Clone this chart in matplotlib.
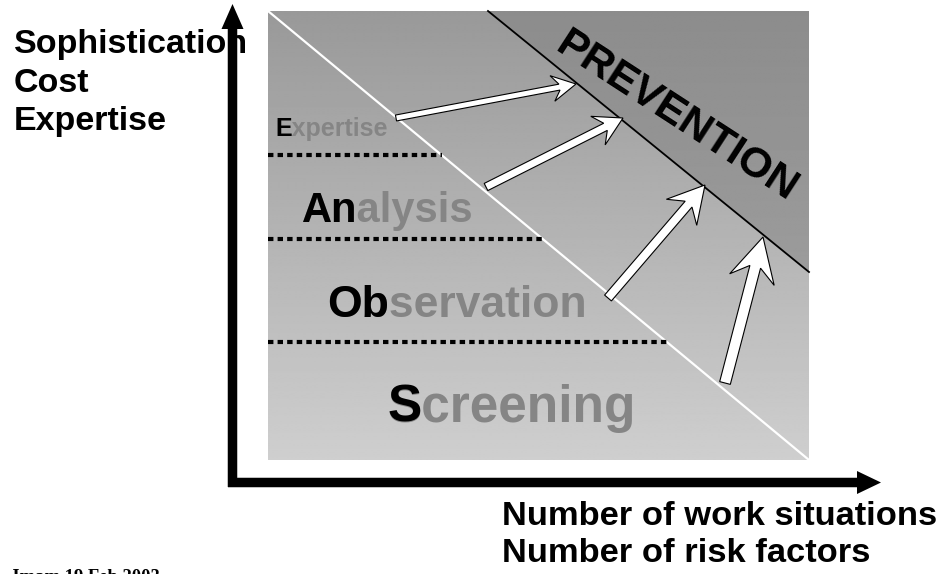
import numpy as np
import matplotlib.pyplot as plt
from matplotlib.patches import Polygon, FancyArrow

plt.rcParams['font.family'] = ['Liberation Sans', 'DejaVu Sans']

# texts of the diagram
y_label = ["Sophistication", "Cost", "Expertise"]
x_label = ["Number of work situations", "Number of risk factors"]
levels = ["Screening", "Observation", "Analysis", "Expertise"]
level_prefix = ["S", "Ob", "An", "E"]
goal = "PREVENTION"
footer = "Jmam 19 Feb 2003"

# layout (pixels, y downwards)
W, H = 942, 574
box_l, box_r, box_t, box_b = 268, 809, 11, 460
tri_pts = [(488, 11), (809, 11), (809, 272)]
level_xy = [(388, 422), (327, 317), (302, 222), (275, 136)]
level_size = [37, 32, 30, 18]
sep_y = [342, 239, 155]
arrows = [  # tail x, tail y, tip x, tip y, shaft, head width, head length
    (396, 118, 576, 84, 6, 26, 24),
    (486, 187, 623, 118, 8, 32, 28),
    (608, 298, 705, 185, 9, 40, 36),
    (725, 383, 763, 237, 11, 46, 44),
]
gray_txt = '#858585'

fig = plt.figure(figsize=(W / 100, H / 100), dpi=100)
ax = fig.add_axes([0, 0, 1, 1])

# shaded box with gradient
grad = np.linspace(0.60, 0.81, 256)[:, None]
ax.imshow(grad, extent=(box_l, box_r, box_b, box_t), cmap='gray', vmin=0, vmax=1,
          aspect='auto', interpolation='bilinear', zorder=1)

# prevention triangle
tri = Polygon(tri_pts, closed=True, fc='none', ec='none')
ax.add_patch(tri)
im = ax.imshow(np.linspace(0.55, 0.61, 256)[:, None], extent=(488, 809, 272, 11),
               cmap='gray', vmin=0, vmax=1, aspect='auto', interpolation='bilinear', zorder=2)
im.set_clip_path(tri)
ax.plot([tri_pts[0][0], tri_pts[2][0]], [tri_pts[0][1], tri_pts[2][1]], color='black', lw=1.3, zorder=3)

# white diagonal
ax.plot([box_l, box_r], [box_t, box_b], color='white', lw=1.6, zorder=2.5)

# dotted separators, ending on the diagonal
slope = (box_b - box_t) / (box_r - box_l)
for y in sep_y:
    x_end = box_l + (y - box_t) / slope
    ax.plot([box_l, x_end], [y, y], color='black', lw=3, ls=(0, (1.3, 1.0)),
            solid_capstyle='butt', dash_capstyle='butt', zorder=3)

# level labels: gray word, black prefix drawn on top
for lab, pre, (x, y), fs in zip(levels, level_prefix, level_xy, level_size):
    ax.text(x, y, lab, fontsize=fs, fontweight='bold', color=gray_txt, va='baseline', ha='left', zorder=4)
    ax.text(x, y, pre, fontsize=fs, fontweight='bold', color='black', va='baseline', ha='left', zorder=5)

ax.text(676, 117, goal, fontsize=31, fontweight='bold', color='black', rotation=-33,
        rotation_mode='anchor', ha='center', va='center', zorder=5)

# white arrows towards prevention
for x0, y0, x1, y1, w, hw, hl in arrows:
    ax.add_patch(FancyArrow(x0, y0, x1 - x0, y1 - y0, width=w, head_width=hw, head_length=hl,
                            length_includes_head=True, overhang=0.3, fc='white', ec='black',
                            lw=0.8, zorder=6))

# axis labels
for i, s in enumerate(y_label):
    ax.text(14, 53 + i * 38.5, s, fontsize=24.5, fontweight='bold', va='baseline', ha='left', zorder=4)
for i, s in enumerate(x_label):
    ax.text(502, 525 + i * 37, s, fontsize=24.8, fontweight='bold', va='baseline', ha='left', zorder=4)

# axes arrows
ax.add_patch(FancyArrow(232.5, 487, 0, -483, width=9.5, head_width=22, head_length=25,
                        length_includes_head=True, fc='black', ec='none', zorder=7))
ax.add_patch(FancyArrow(228, 482.5, 653, 0, width=9.5, head_width=23, head_length=24,
                        length_includes_head=True, fc='black', ec='none', zorder=7))

ax.text(10, 569.5, footer, family='Liberation Serif', fontweight='bold', fontsize=13.4, va='top', ha='left')

ax.set_xlim(0, W)
ax.set_ylim(H, 0)
ax.axis('off')
fig.savefig('out.png', dpi=100)
